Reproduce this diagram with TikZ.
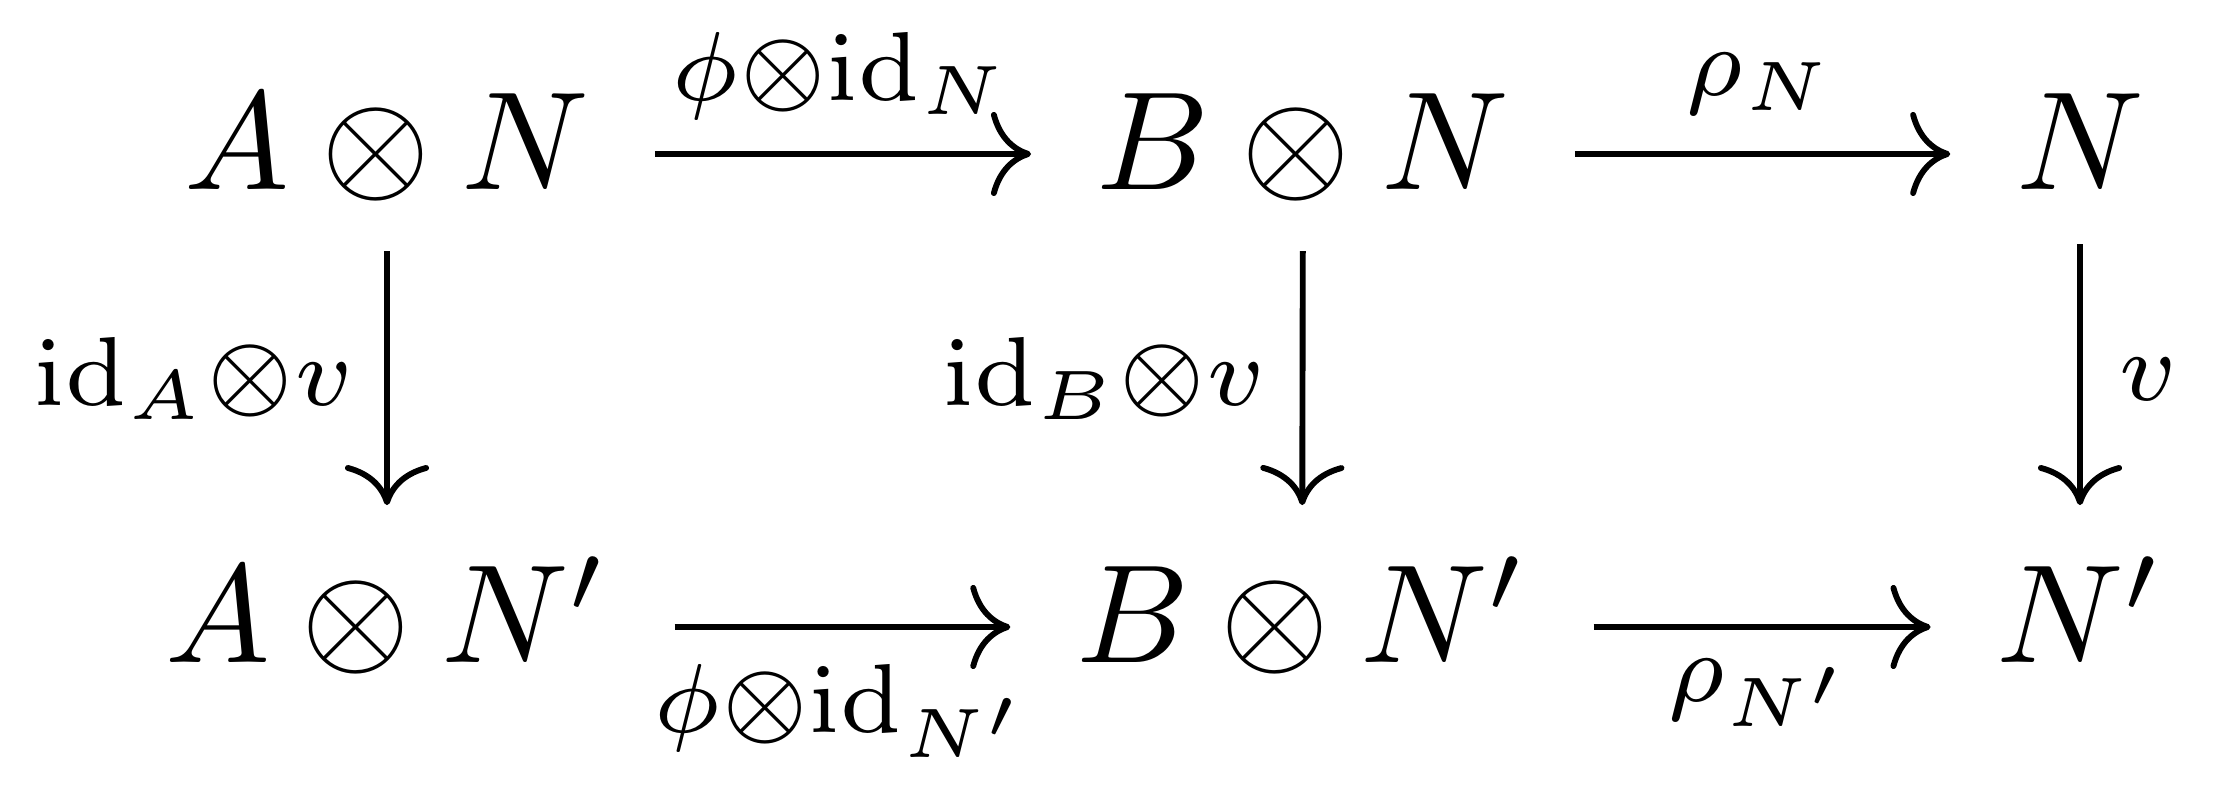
\documentclass[tikz,border=0pt]{standalone}
\usetikzlibrary{cd}
\begin{document}
\begin{tikzpicture}[x=0.0714pt,y=-0.0714pt,
  obj/.style={anchor=base, inner xsep=0.47em, inner ysep=0.3em, outer sep=0pt},
  toprow/.style={obj, text height=0.643em, text depth=0.143em},
  toprowN/.style={obj, text height=0.593em, text depth=0.093em},
  botrow/.style={obj, text height=0.82em, text depth=0.32em},
  lab/.style={inner sep=0pt, outer sep=0pt},
  arr/.style={line width=0.42pt, -{cm to[scale=1.1]}}]
\useasboundingbox (0,0) rectangle (2223,788);
% objects
\node[toprow]  (AN)  at (387,189)  {$A\otimes N$};
\node[toprow]  (BN)  at (1303,189) {$B\otimes N$};
\node[toprowN] (N)   at (2080,189) {$N$};
\node[botrow]  (ANp) at (387,662)  {$A\otimes N'$};
\node[botrow]  (BNp) at (1302,662) {$B\otimes N'$};
\node[botrow]  (Np)  at (2080,662) {$N'$};
% arrows
\draw[arr] (AN) -- (BN);
\draw[arr] (BN) -- (N);
\draw[arr] (ANp) -- (BNp);
\draw[arr] (BNp) -- (Np);
\draw[arr] (AN) -- (ANp);
\draw[arr] (BN) -- (BNp);
\draw[arr] (N) -- (Np);
% labels
\node[lab, anchor=base] (l1) at (841,100) {$\scriptstyle\phi\otimes\mathrm{id}_N$};
\node[lab, anchor=base] (l2) at (1760,96) {$\scriptstyle\rho_N$};
\node[lab, anchor=base] (l3) at (842,732) {$\scriptstyle\phi\otimes\mathrm{id}_{N'}$};
\node[lab, anchor=base] (l4) at (1760,701) {$\scriptstyle\rho_{N'}$};
\node[lab, anchor=base east] (l5) at (354,405) {$\scriptstyle\mathrm{id}_A\otimes v$};
\node[lab, anchor=base east] (l6) at (1266,405) {$\scriptstyle\mathrm{id}_B\otimes v$};
\node[lab, anchor=base west] (l7) at (2118,400) {$\scriptstyle v$};
\end{tikzpicture}
\end{document}
